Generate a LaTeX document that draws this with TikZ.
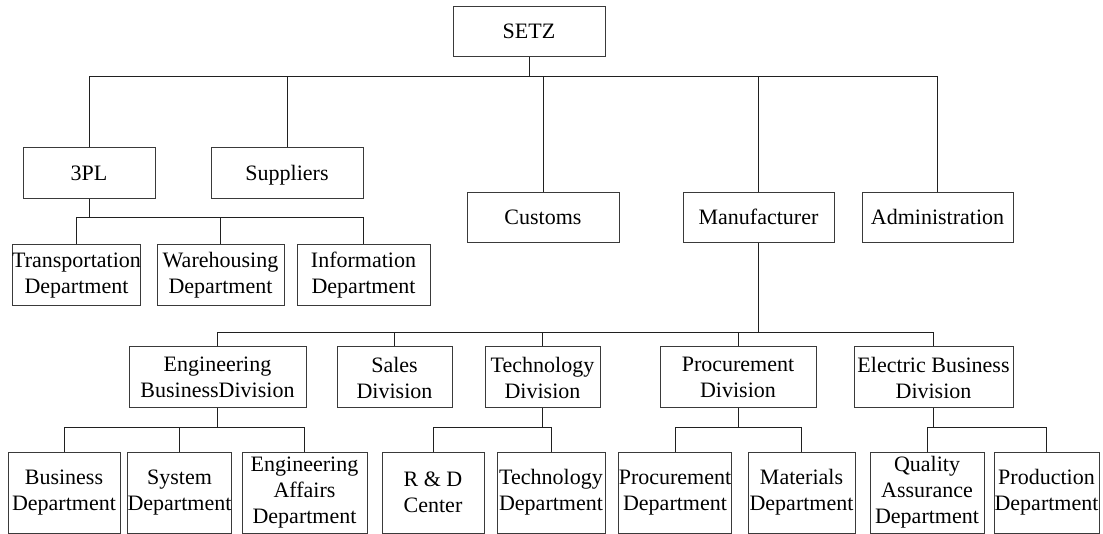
\documentclass[tikz,border=0pt]{standalone}
\usepackage{fontspec}
\setmainfont{Liberation Serif}
\usepackage{xcolor}
\usepackage{tikz}
\definecolor{BoxLine}{HTML}{3A3A3A}
\definecolor{LinkLine}{HTML}{202020}
\tikzset{
  orgbox/.style={draw=BoxLine,line width=1pt,fill=white,inner sep=0pt,
    align=center,font=\fontsize{22}{26}\selectfont},
  oneline/.style={text height=18pt,text depth=4.5pt},
  link/.style={draw=LinkLine,line width=1pt}
}
\begin{document}
\begin{tikzpicture}[x=1pt,y=-1pt]
  \useasboundingbox (0,0) rectangle (1103,534);

  % top level
  \node[orgbox,oneline,minimum width=152,minimum height=50] (setz) at (529,32) {SETZ};

  % second level
  \node[orgbox,oneline,minimum width=132,minimum height=51] (tpl) at (89,173.5) {3PL};
  \node[orgbox,oneline,minimum width=152,minimum height=51] (sup) at (287,173.5) {Suppliers};
  \node[orgbox,oneline,minimum width=152,minimum height=50] (cus) at (543,218) {Customs};
  \node[orgbox,oneline,minimum width=151,minimum height=50] (man) at (758.5,218) {Manufacturer};
  \node[orgbox,oneline,minimum width=151,minimum height=50] (adm) at (937.5,218) {Administration};

  % 3PL departments
  \node[orgbox,minimum width=127,minimum height=61] (trans) at (76.5,275.5) {Transportation\\Department};
  \node[orgbox,minimum width=127,minimum height=61] (ware) at (220.5,275.5) {Warehousing\\Department};
  \node[orgbox,minimum width=133,minimum height=61] (info) at (363.5,275.5) {Information\\Department};

  % manufacturer divisions
  \node[orgbox,minimum width=177,minimum height=61] (engdiv) at (217.5,377.5) {Engineering\\BusinessDivision};
  \node[orgbox,minimum width=115,minimum height=61] (salesdiv) at (394.5,377.5) {Sales\\Division};
  \node[orgbox,minimum width=115,minimum height=61] (techdiv) at (542.5,377.5) {Technology\\Division};
  \node[orgbox,minimum width=156,minimum height=61] (procdiv) at (738,377.5) {Procurement\\Division};
  \node[orgbox,minimum width=159,minimum height=61] (elecdiv) at (933.5,377.5) {Electric Business\\Division};

  % departments
  \node[orgbox,minimum width=112,minimum height=81] (busdep) at (64,492.5) {Business\\Department};
  \node[orgbox,minimum width=103,minimum height=81] (sysdep) at (179.5,492.5) {System\\Department};
  \node[orgbox,minimum width=125,minimum height=81] (engdep) at (304.5,492.5) {Engineering\\Affairs\\Department};
  \node[orgbox,minimum width=102,minimum height=81] (rdc) at (433,492.5) {R \& D\\Center};
  \node[orgbox,minimum width=108,minimum height=81] (techdep) at (551,492.5) {Technology\\Department};
  \node[orgbox,minimum width=112,minimum height=81] (procdep) at (675,492.5) {Procurement\\Department};
  \node[orgbox,minimum width=107,minimum height=81] (matdep) at (801.5,492.5) {Materials\\Department};
  \node[orgbox,minimum width=114,minimum height=81] (qadep) at (927,492.5) {Quality\\Assurance\\Department};
  \node[orgbox,minimum width=105,minimum height=81] (proddep) at (1046.5,492.5) {Production\\Department};

  % SETZ links
  \draw[link] (setz.south) -- ++(0,19) -| (tpl.north);
  \draw[link] (setz.south) -- ++(0,19) -| (sup.north);
  \draw[link] (setz.south) -- ++(0,19) -| (cus.north);
  \draw[link] (setz.south) -- ++(0,19) -| (man.north);
  \draw[link] (setz.south) -- ++(0,19) -| (adm.north);

  % 3PL links
  \draw[link] (tpl.south) -- ++(0,18) -| (trans.north);
  \draw[link] (tpl.south) -- ++(0,18) -| (ware.north);
  \draw[link] (tpl.south) -- ++(0,18) -| (info.north);

  % Manufacturer links
  \draw[link] (man.south) -- ++(0,89) -| (engdiv.north);
  \draw[link] (man.south) -- ++(0,89) -| (salesdiv.north);
  \draw[link] (man.south) -- ++(0,89) -| (techdiv.north);
  \draw[link] (man.south) -- ++(0,89) -| (procdiv.north);
  \draw[link] (man.south) -- ++(0,89) -| (elecdiv.north);
  \draw[link,line width=1.6pt] (man.south) -- ++(0,89);

  % division links
  \draw[link] (engdiv.south) -- ++(0,19) -| (busdep.north);
  \draw[link] (engdiv.south) -- ++(0,19) -| (sysdep.north);
  \draw[link] (engdiv.south) -- ++(0,19) -| (engdep.north);
  \draw[link] (techdiv.south) -- ++(0,19) -| (rdc.north);
  \draw[link] (techdiv.south) -- ++(0,19) -| (techdep.north);
  \draw[link] (procdiv.south) -- ++(0,19) -| (procdep.north);
  \draw[link] (procdiv.south) -- ++(0,19) -| (matdep.north);
  \draw[link] (elecdiv.south) -- ++(0,19) -| (qadep.north);
  \draw[link] (elecdiv.south) -- ++(0,19) -| (proddep.north);
\end{tikzpicture}
\end{document}
